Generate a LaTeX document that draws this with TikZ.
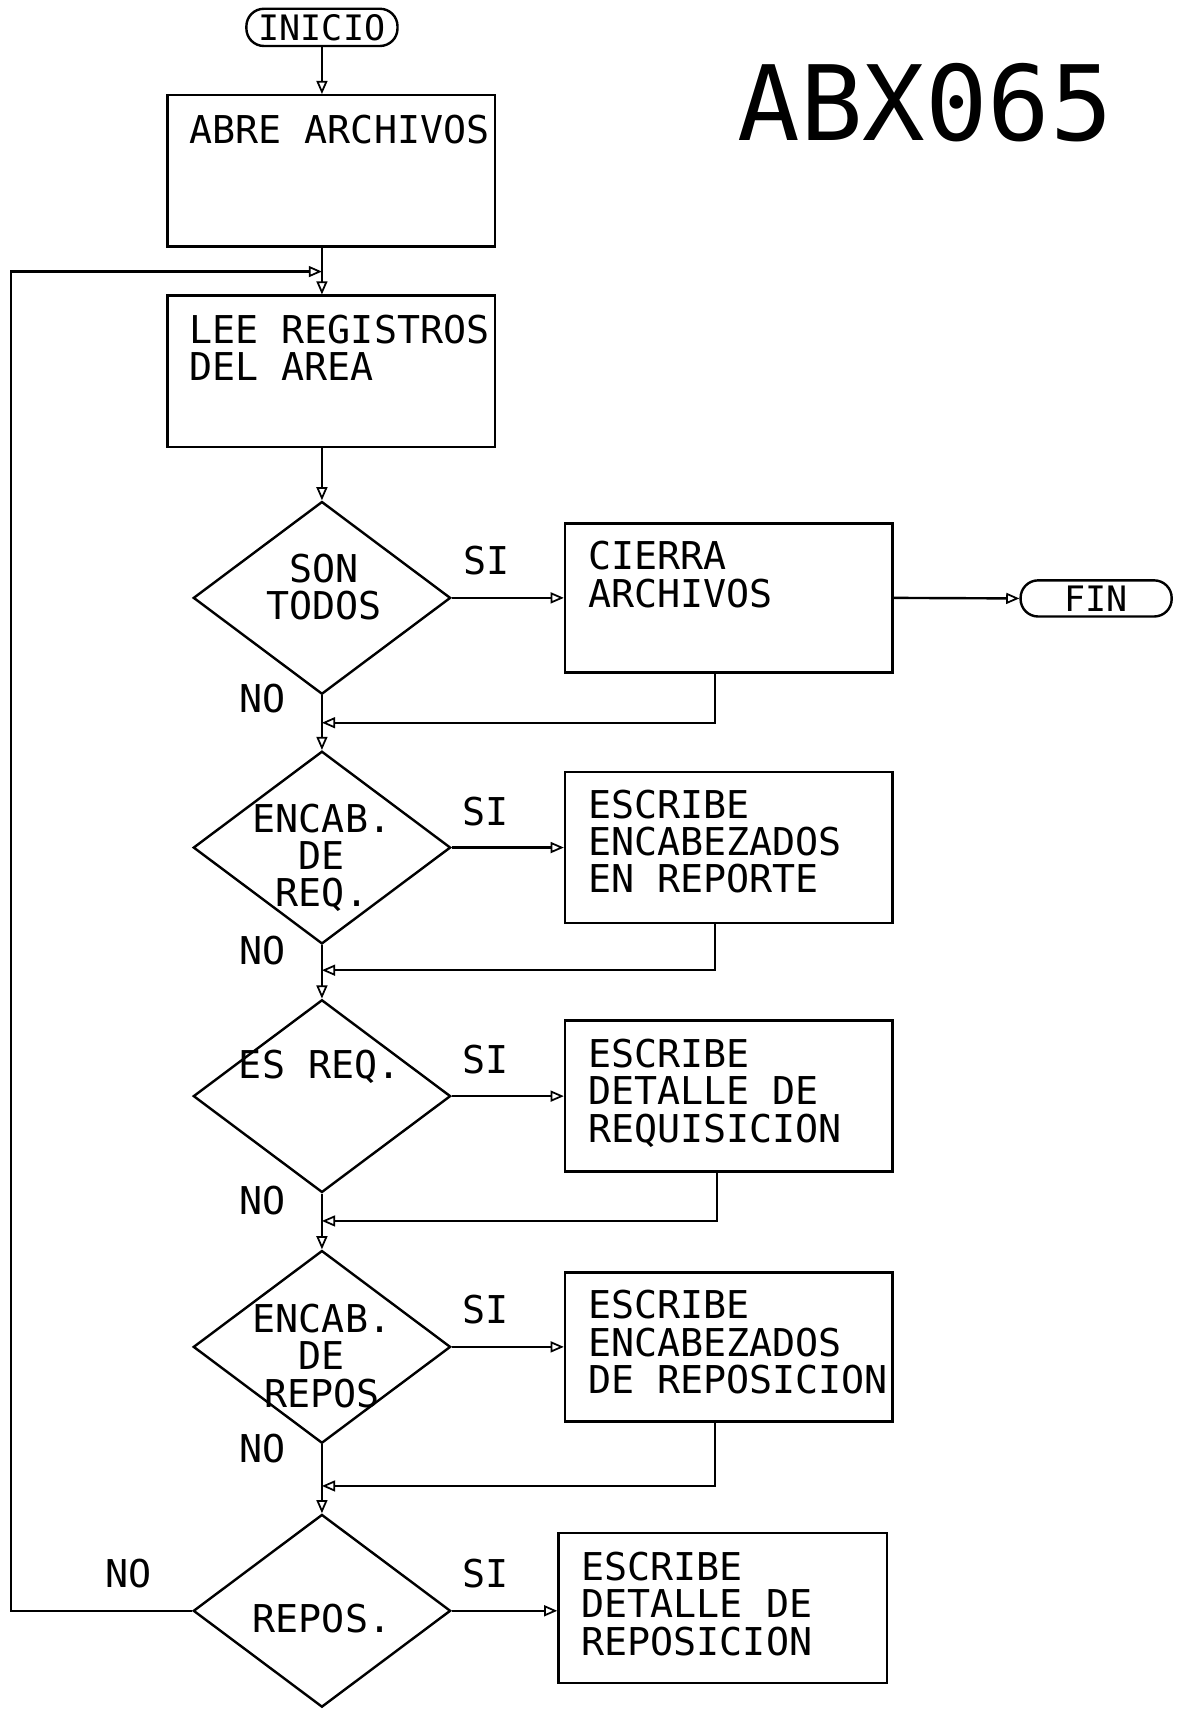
\documentclass[tikz,border=0pt]{standalone}
\usepackage{fontspec}
\setmonofont{DejaVu Sans Mono}
\usetikzlibrary{shapes.geometric,arrows.meta}
\begin{document}
\begin{tikzpicture}[x=1pt,y=-1pt,
  line width=2.2pt,
  every node/.style={font=\ttfamily\fontsize{35}{34}\selectfont, inner sep=0pt},
  proc/.style={draw, rectangle, minimum width=299pt, minimum height=138pt},
  term/.style={draw, rectangle, rounded corners=16pt, minimum width=138pt, minimum height=34pt, font=\ttfamily\fontsize{32}{32}\selectfont},
  dec/.style={draw, diamond, minimum width=235pt, minimum height=176pt},
  ptext/.style={anchor=north west, align=left},
  dtext/.style={anchor=north, align=center},
  lbl/.style={anchor=center},
  flow/.style={-{Triangle[open,length=12pt,width=10pt,line width=1.6pt]}}]
\useasboundingbox (0,0) rectangle (1078,1568);

% title
\node[font=\ttfamily\fontsize{95}{95}\selectfont] (title) at (845,94) {ABX065};

% terminals
\node[term] (ini) at (294,25) {INICIO};
\node[term, minimum height=33pt] (fin) at (1001,546.5) {FIN};

% process boxes
\node[proc] (abre) at (302.5,156) {};
\node[proc] (lee)  at (302.5,339) {};
\node[proc, minimum height=136pt] (b1) at (665.5,546) {};
\node[proc] (b2) at (665.5,774) {};
\node[proc] (b3) at (665.5,1001) {};
\node[proc, minimum height=136pt] (b4) at (665.5,1230) {};
\node[proc, minimum width=300pt, minimum height=137pt] (b5) at (660,1468.5) {};

\node[ptext] (tabre) at ([shift={(20,18.5)}]abre.north west) {ABRE ARCHIVOS};
\node[ptext] (tlee)  at ([shift={(20,17.5)}]lee.north west) {LEE REGISTROS\\DEL AREA};
\node[ptext] (tb1) at ([shift={(21,16.5)}]b1.north west) {CIERRA\\ARCHIVOS};
\node[ptext] (tb2) at ([shift={(21,16.5)}]b2.north west) {ESCRIBE\\ENCABEZADOS\\EN REPORTE};
\node[ptext] (tb3) at ([shift={(21,17)}]b3.north west) {ESCRIBE\\DETALLE DE\\REQUISICION};
\node[ptext] (tb4) at ([shift={(21,16.5)}]b4.north west) {ESCRIBE\\ENCABEZADOS\\DE REPOSICION};
\node[ptext] (tb5) at ([shift={(21,17.5)}]b5.north west) {ESCRIBE\\DETALLE DE\\REPOSICION};

% decisions
\node[dec] (d1) at (294,546) {};
\node[dec] (d2) at (294,774) {};
\node[dec] (d3) at (294,1001) {};
\node[dec] (d4) at (294,1230) {};
\node[dec] (d5) at (294,1471) {};

\node[dtext] (td1) at (296,505) {SON\\TODOS};
\node[dtext] (td2) at (294,733) {ENCAB.\\DE\\REQ.};
\node[lbl]   (td3) at (292,974) {ES REQ.};
\node[dtext] (td4) at (294,1190) {ENCAB.\\DE\\REPOS};
\node[lbl]   (td5) at (294,1478) {REPOS.};

% labels
\node[lbl] (si1) at (444,512) {SI};
\node[lbl] (si2) at (443,741) {SI};
\node[lbl] (si3) at (443,968) {SI};
\node[lbl] (si4) at (443,1196) {SI};
\node[lbl] (si5) at (443,1437) {SI};
\node[lbl] (no1) at (240,638) {NO};
\node[lbl] (no2) at (240,868) {NO};
\node[lbl] (no3) at (240,1096) {NO};
\node[lbl] (no4) at (240,1323) {NO};
\node[lbl] (no5) at (117,1437) {NO};

% junctions
\coordinate (j0) at (294,248);
\coordinate (lc) at (10,248);
\coordinate (j1) at (294,660);
\coordinate (j2) at (294,886);
\coordinate (j3) at (294,1115);
\coordinate (j4) at (294,1357);

% connectors
\draw[flow] (ini.south) -- (ini.south |- abre.north);
\draw (abre.south -| ini) -- (j0);
\draw[flow] (j0) -- (lee.north -| ini);
\draw[flow] (lee.south -| ini) -- (d1.north);
\draw[flow] (d1.east) -- (d1.east -| b1.west);
\draw[flow] (b1.east) -- (fin.west);
\draw[flow] ([xshift=-12.5pt]b1.south) |- (j1);
\draw[flow] (d1.south) -- (d2.north);
\draw[flow] (d2.east) -- (d2.east -| b2.west);
\draw[flow] ([xshift=-12.5pt]b2.south) |- (j2);
\draw[flow] (d2.south) -- (d3.north);
\draw[flow] (d3.east) -- (d3.east -| b3.west);
\draw[flow] ([xshift=-10.5pt]b3.south) |- (j3);
\draw[flow] (d3.south) -- (d4.north);
\draw[flow] (d4.east) -- (d4.east -| b4.west);
\draw[flow] ([xshift=-12.5pt]b4.south) |- (j4);
\draw[flow] (d4.south) -- (d5.north);
\draw[flow] (d5.east) -- (d5.east -| b5.west);
\draw[flow] (d5.west) -| (lc) -- (j0);
\end{tikzpicture}
\end{document}
